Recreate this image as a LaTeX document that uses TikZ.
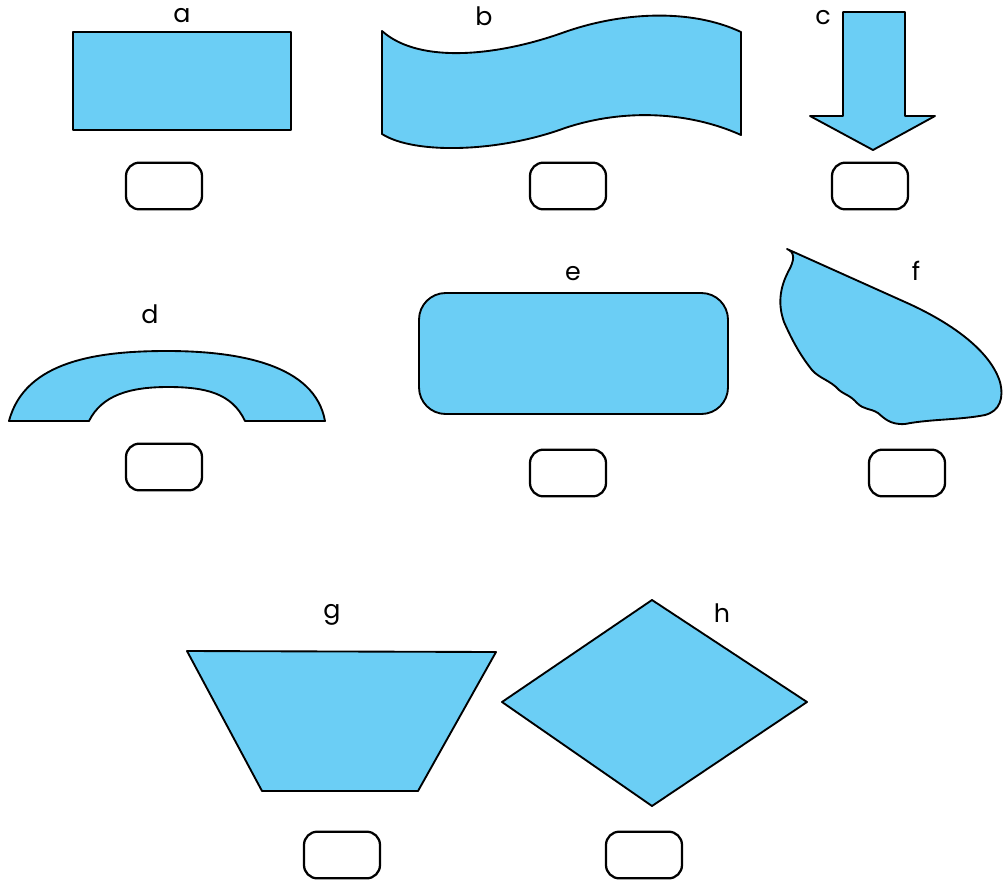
\documentclass[tikz,border=0pt]{standalone}
\usepackage{fontspec}
\setmainfont{Poppins}
\definecolor{shapeblue}{HTML}{6BCEF5}
\tikzset{
  shp/.style={draw=black, fill=shapeblue, line width=1.4pt, line join=round},
  lbl/.style={font=\fontsize{19}{22}\selectfont, inner sep=0pt, anchor=center},
  answerbox/.style={draw=black, line width=1.7pt, rounded corners=10pt, minimum width=57pt, minimum height=35pt, inner sep=0pt}
}
\begin{document}
\begin{tikzpicture}[x=0.75pt,y=-0.75pt]
\useasboundingbox (0,0) rectangle (1003,879);
% a
\draw[shp] (73,32) rectangle (291,130);
\node[lbl] (la) at (182,16) {a};
\node[answerbox] (ba) at (164,186) {};
% b
\draw[shp] (382,31) .. controls (420,65) and (500,55) .. (562,33)
  .. controls (620,12) and (690,8) .. (741,32) -- (741,135)
  .. controls (690,112) and (625,108) .. (565,128)
  .. controls (500,152) and (415,155) .. (382,134) -- cycle;
\node[lbl] (lb) at (484,16) {b};
\node[answerbox] (bb) at (568,186) {};
% c
\draw[shp] (843,12) -- (905,12) -- (905,116) -- (935,116) -- (873,150) -- (810,116) -- (843,116) -- cycle;
\node[lbl] (lc) at (823,18) {c};
\node[answerbox] (bc) at (870,186) {};
% d
\draw[shp] (9,421) .. controls (25,360) and (100,351) .. (167,351)
  .. controls (240,351) and (315,365) .. (325,421) -- (245,421)
  .. controls (232,393) and (205,387) .. (168,387)
  .. controls (130,387) and (102,395) .. (89,421) -- cycle;
\node[lbl] (ld) at (150,314) {d};
\node[answerbox] (bd) at (164,467) {};
% e
\draw[shp, rounded corners=20pt] (419,293) rectangle (728,414);
\node[lbl] (le) at (573,274) {e};
\node[answerbox] (be) at (568,473) {};
% f
\draw[shp] (787,249) -- (905,302) .. controls (950,322) and (990,350) .. (1000,382)
  .. controls (1004,398) and (1000,411) .. (985,415)
  .. controls (960,420) and (930,419) .. (905,424)
  .. controls (890,425) and (884,418) .. (878,413)
  .. controls (870,408) and (864,410) .. (857,403)
  .. controls (850,395) and (845,395) .. (839,390)
  .. controls (830,380) and (820,379) .. (812,370)
  .. controls (800,355) and (792,340) .. (784,322)
  .. controls (777,302) and (781,286) .. (788,272)
  .. controls (795,260) and (795,252) .. (787,249) -- cycle;
\node[lbl] (lf) at (916,271) {f};
\node[answerbox] (bf) at (907,473) {};
% g
\draw[shp] (187,651) -- (496,652) -- (418,791) -- (262,791) -- cycle;
\node[lbl] (lg) at (332,615) {g};
\node[answerbox] (bg) at (342,855) {};
% h
\draw[shp] (652,600) -- (807,702) -- (652,806) -- (502,702) -- cycle;
\node[lbl] (lh) at (722,613) {h};
\node[answerbox] (bh) at (644,855) {};
\end{tikzpicture}
\end{document}
